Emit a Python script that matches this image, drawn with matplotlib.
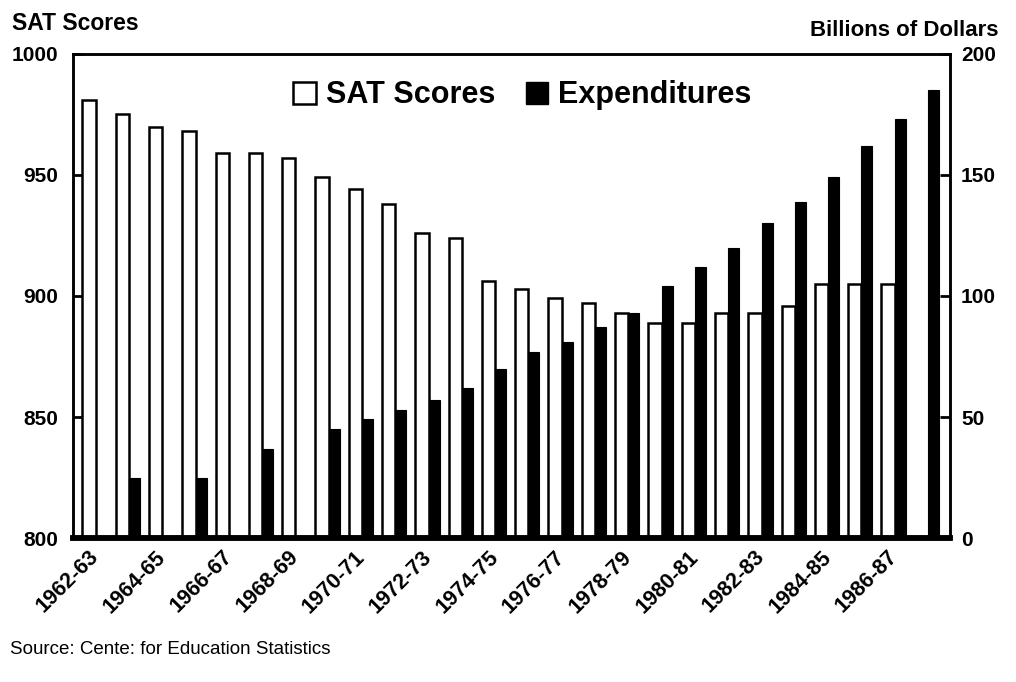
import numpy as np
import matplotlib
matplotlib.use("Agg")
import matplotlib.pyplot as plt
from matplotlib.patches import Patch

plt.rcParams['font.family'] = ['Liberation Sans', 'DejaVu Sans']

years = ["1962-63", "1963-64", "1964-65", "1965-66", "1966-67", "1967-68",
         "1968-69", "1969-70", "1970-71", "1971-72", "1972-73", "1973-74",
         "1974-75", "1975-76", "1976-77", "1977-78", "1978-79", "1979-80",
         "1980-81", "1981-82", "1982-83", "1983-84", "1984-85", "1985-86",
         "1986-87", "1987-88"]
sat_scores = [981, 975, 970, 968, 959, 959, 957, 949, 944, 938, 926, 924, 906,
              903, 899, 897, 893, 889, 889, 893, 893, 896, 905, 905, 905, np.nan]
expenditures = [np.nan, 25, np.nan, 25, np.nan, 37, np.nan, 45, 49, 53, 57, 62,
                70, 77, 81, 87, 93, 104, 112, 120, 130, 139, 149, 162, 173, 185]
tick_labels = years[::2]

fig = plt.figure(figsize=(10.16, 6.82), dpi=100)
ax = fig.add_axes([0.0719, 0.211, 0.8631, 0.710])
ax2 = ax.twinx()

x = np.arange(len(years))
sat_w = 0.40
exp_w = 0.33
ax.bar(x - sat_w, np.array(sat_scores) - 800, width=sat_w, bottom=800, align='edge',
       facecolor='white', edgecolor='black', linewidth=1.8, zorder=2)
ax2.bar(x, expenditures, width=exp_w, align='edge',
        facecolor='black', edgecolor='black', linewidth=0.8, zorder=2)

ax.set_xlim(-0.68, 25.66)
ax.set_ylim(800, 1000)
ax2.set_ylim(0, 200)
ax.set_yticks([800, 850, 900, 950, 1000])
ax2.set_yticks([0, 50, 100, 150, 200])

# labels sit slightly left of the group centre, as in the original
ax.set_xticks(x[::2] - 0.22)
ax.set_xticklabels(tick_labels, rotation=45, ha='right', va='top',
                   rotation_mode='anchor', fontsize=15.5, fontweight='bold')
ax.tick_params(axis='x', length=0, pad=6)
ax.tick_params(axis='y', direction='in', length=7, width=2, pad=11,
               labelsize=15)
ax2.tick_params(axis='y', direction='in', length=7, width=2, pad=8,
                labelsize=15)
for lab in ax.get_yticklabels() + ax2.get_yticklabels():
    lab.set_fontweight('bold')

for a in (ax, ax2):
    for s in ('left', 'right', 'top'):
        a.spines[s].set_linewidth(1.8)
    a.spines['bottom'].set_linewidth(4)

fig.text(0.012, 0.965, "SAT Scores", fontsize=16.5, fontweight='bold',
         ha='left', va='center')
fig.text(0.983, 0.955, "Billions of Dollars", fontsize=16, fontweight='bold',
         ha='right', va='center')
fig.text(0.010, 0.047, "Source: Cente: for Education Statistics", fontsize=13.5,
         ha='left', va='center')

handles = [Patch(facecolor='white', edgecolor='black', linewidth=1.8),
           Patch(facecolor='black', edgecolor='black')]
fig.legend(handles, ["SAT Scores", "Expenditures"], loc='center',
           bbox_to_anchor=(0.514, 0.860), ncol=2, frameon=False,
           prop={'weight': 'bold', 'size': 22}, handlelength=0.75,
           handleheight=0.75, handletextpad=0.3, columnspacing=1.0)

fig.savefig("out.png", dpi=100)
